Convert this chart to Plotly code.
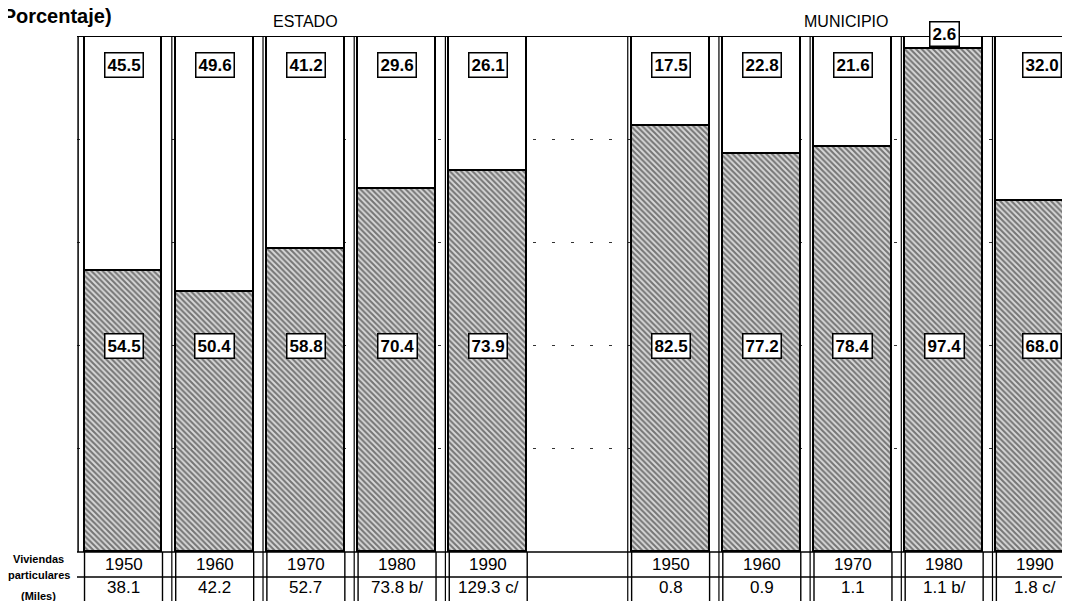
import plotly.graph_objects as go

# ---------------- data ----------------
years = ["1950", "1960", "1970", "1980", "1990"]
estado_hatched = [54.5, 50.4, 58.8, 70.4, 73.9]
estado_white = [45.5, 49.6, 41.2, 29.6, 26.1]
municipio_hatched = [82.5, 77.2, 78.4, 97.4, 68.0]
municipio_white = [17.5, 22.8, 21.6, 2.6, 32.0]
estado_viviendas = ["38.1", "42.2", "52.7", "73.8 b/", "129.3 c/"]
municipio_viviendas = ["0.8", "0.9", "1.1", "1.1 b/", "1.8 c/"]
grid_values = [20, 40, 60, 80]

# ---------------- layout helpers ----------------
estado_slots = [0, 1, 2, 3, 4]
municipio_slots = [6, 7, 8, 9, 10]
slots = estado_slots + municipio_slots
hatched = estado_hatched + municipio_hatched
white = estado_white + municipio_white
viviendas = estado_viviendas + municipio_viviendas
all_years = years + years

BAR_W = 0.855
X_MIN, X_MAX = -0.51, 10.38
Y_MIN, Y_MAX = -9.5, 100
ROW_SPLIT = -4.85
FONT = "Liberation Sans"


def px(x):
    return (x - X_MIN) / (X_MAX - X_MIN)


def py(y):
    return (y - Y_MIN) / (Y_MAX - Y_MIN)


def note(x, y, text, font, **kw):
    d = dict(x=px(x), y=py(y), xref="paper", yref="paper", text=text, showarrow=False,
             font=font, xanchor="center", yanchor="middle")
    d.update(kw)
    return d


fig = go.Figure()
fig.add_trace(go.Bar(
    x=slots, y=hatched, width=BAR_W,
    marker=dict(color="white",
                pattern=dict(shape="\\", size=4, solidity=0.52,
                             fgcolor="#111111", bgcolor="#d8d8d8"),
                line=dict(color="black", width=1.6)),
    hoverinfo="skip", showlegend=False))
fig.add_trace(go.Bar(
    x=slots, y=white, width=BAR_W,
    marker=dict(color="white", line=dict(color="black", width=1.6)),
    hoverinfo="skip", showlegend=False))

shapes = []
shapes.append(dict(type="line", xref="x", yref="y", x0=X_MIN, x1=X_MAX, y0=100, y1=100,
                   line=dict(color="black", width=2)))
shapes.append(dict(type="line", xref="x", yref="y", x0=X_MIN + 0.012, x1=X_MIN + 0.012, y0=0, y1=100,
                   line=dict(color="black", width=1.5)))
for s in [0, 1, 2, 3, 5, 6, 7, 8, 9]:
    shapes.append(dict(type="line", xref="x", yref="y", x0=s + 0.53, x1=s + 0.53, y0=Y_MIN, y1=100,
                       line=dict(color="black", width=1.2)))
for yy in [0, ROW_SPLIT]:
    shapes.append(dict(type="line", xref="x", yref="y", x0=X_MIN, x1=X_MAX, y0=yy, y1=yy,
                       line=dict(color="black", width=1.6)))
for s in slots:
    for edge in (s - BAR_W / 2, s + BAR_W / 2):
        shapes.append(dict(type="line", xref="x", yref="y", x0=edge, x1=edge, y0=Y_MIN, y1=0,
                           line=dict(color="black", width=1.4)))

annotations = []
box_font = dict(family=FONT, size=17, color="black", weight="bold")
for s, h, w in zip(slots, hatched, white):
    xs = 7 if s == 10 else 0
    uy = 100.4 if w < 5 else 94.4
    for val, yy in ((w, uy), (h, 40)):
        annotations.append(note(s, yy, f"{val:.1f}", box_font, bgcolor="white",
                                bordercolor="black", borderwidth=1.5, borderpad=2, xshift=xs))

table_font = dict(family=FONT, size=17, color="black")
for s, yr, v in zip(slots, all_years, viviendas):
    annotations.append(note(s, ROW_SPLIT / 2, yr, table_font))
    annotations.append(note(s, -6.9, v, table_font))

annotations.append(note(-0.104, 103.8, "(Porcentaje)",
                        dict(family=FONT, size=20, color="black", weight="bold"), xanchor="right"))
annotations.append(note(2.0, 102.9, "ESTADO", dict(family=FONT, size=16, color="black")))
annotations.append(note(7.92, 102.9, "MUNICIPIO", dict(family=FONT, size=16, color="black")))
for txt, yy in [("Viviendas", -1.4), ("particulares", -4.4), ("(Miles)", -8.5)]:
    annotations.append(note(-0.93, yy, txt, dict(family=FONT, size=11, color="black", weight="bold")))

# page body adds an 8px margin, so the figure is drawn 8px smaller than the window
fig.update_layout(
    width=1062, height=593,
    margin=dict(l=69, r=0, t=28, b=0),
    paper_bgcolor="white", plot_bgcolor="white",
    barmode="stack", bargap=0,
    shapes=shapes, annotations=annotations,
    xaxis=dict(range=[X_MIN, X_MAX], showgrid=False, zeroline=False, showticklabels=False,
               showline=False, ticks=""),
    yaxis=dict(range=[Y_MIN, Y_MAX], tickvals=grid_values, showgrid=True, gridcolor="#333333",
               griddash="3px,16px", gridwidth=1, zeroline=False, showticklabels=False,
               showline=False, ticks=""),
)

fig.write_html("out.html")
